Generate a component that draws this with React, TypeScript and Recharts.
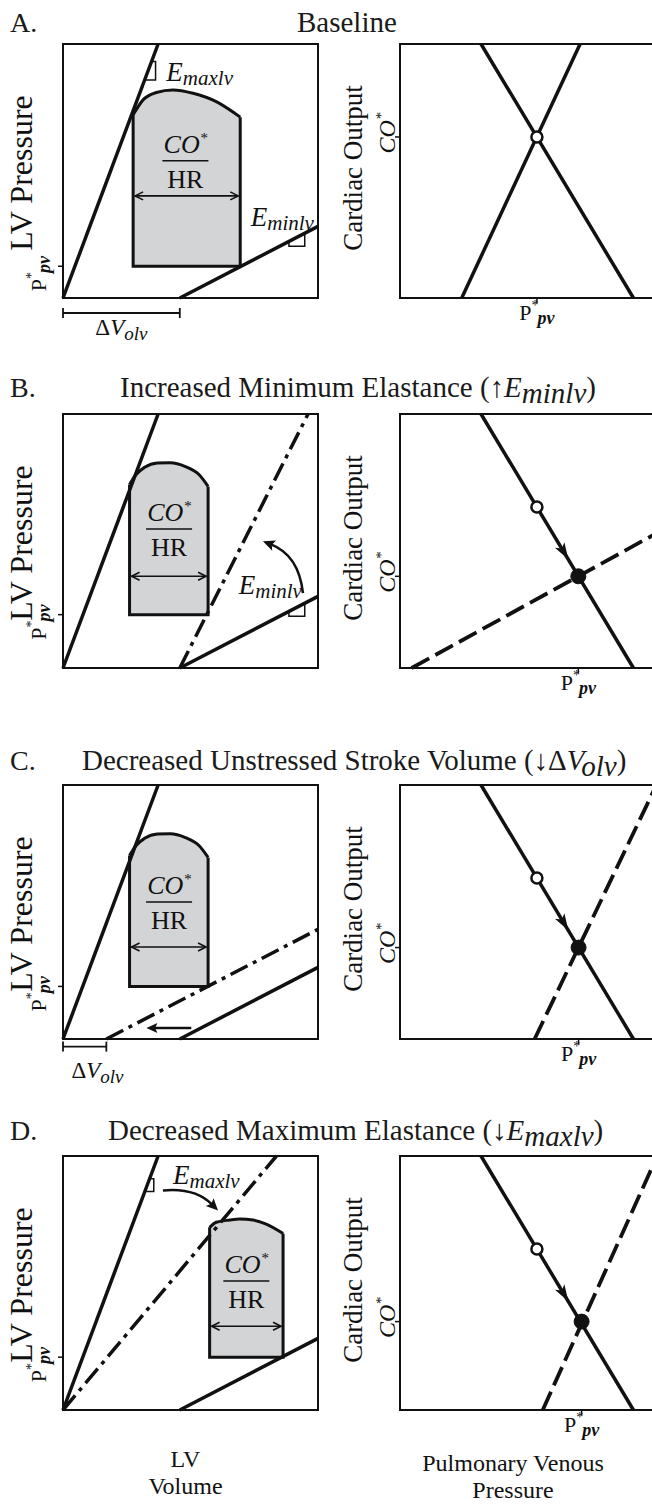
import React from 'react';
import {
  Area,
  ComposedChart,
  Line,
  ReferenceArea,
  ReferenceDot,
  ReferenceLine,
  XAxis,
  YAxis
} from 'recharts';

type Pt = { x: number; y: number };

const SERIF = '"Liberation Serif", "Times New Roman", serif';
const INK = '#111';
const LOOP_FILL = '#d3d4d6';

// every box is a 0-100 schematic space on both axes

// left column: LV pressure vs LV volume
const emaxLine: Pt[] = [{ x: 0, y: 0 }, { x: 37.3, y: 100 }];
const eminLine: Pt[] = [{ x: 45.8, y: 0 }, { x: 100, y: 28.2 }];
const eminHighLine: Pt[] = [{ x: 45.8, y: 0 }, { x: 96.1, y: 100 }];
const eminShiftLine: Pt[] = [{ x: 17, y: 0 }, { x: 100, y: 43.2 }];
const emaxLowLine: Pt[] = [{ x: 0, y: 0 }, { x: 83.7, y: 100 }];

const emaxMarkA: Pt[] = [{ x: 32.0, y: 85.8 }, { x: 36.3, y: 85.8 }, { x: 36.3, y: 93.1 }, { x: 34.7, y: 93.1 }];
const emaxMarkD: Pt[] = [{ x: 32.1, y: 86 }, { x: 35.6, y: 86 }, { x: 35.6, y: 91 }, { x: 33.9, y: 91 }];
const eminMark: Pt[] = [{ x: 88.6, y: 22.2 }, { x: 88.6, y: 20.4 }, { x: 94.8, y: 20.4 }, { x: 94.8, y: 25.5 }];

const loopTopA: Pt[] = [
  { x: 27.5, y: 72.1 }, { x: 31.4, y: 78.0 }, { x: 36.6, y: 80.9 }, { x: 43.1, y: 81.9 },
  { x: 51.0, y: 80.6 }, { x: 60.1, y: 77.3 }, { x: 69.5, y: 71.2 }
];
const loopTopB: Pt[] = [
  { x: 26.1, y: 72.2 }, { x: 28.5, y: 76.0 }, { x: 32, y: 79.0 }, { x: 37, y: 80.7 },
  { x: 42, y: 80.8 }, { x: 48, y: 79.3 }, { x: 53.5, y: 76 }, { x: 56.9, y: 71.5 }
];
const loopTopD: Pt[] = [
  { x: 57.5, y: 71.9 }, { x: 60.1, y: 73.9 }, { x: 65.4, y: 74.8 }, { x: 69.3, y: 75.2 },
  { x: 74.5, y: 74.8 }, { x: 79.7, y: 73.2 }, { x: 86.3, y: 69.5 }
];
const loopBottoms = [12.5, 21, 20.7, 20.8];
const strokeArrowYs = [40.2, 36.1, 36.2, 33];
const fractionPos: Pt[] = [{ x: 48, y: 54 }, { x: 41.6, y: 54.7 }, { x: 41.6, y: 53.9 }, { x: 71.9, y: 50.8 }];

// right column: cardiac output vs pulmonary venous pressure
const venousReturn: Pt[] = [{ x: 31.9, y: 100 }, { x: 91.9, y: 0 }];
const lvOutputBase: Pt[] = [{ x: 24.3, y: 0 }, { x: 70.9, y: 100 }];
const lvOutputB: Pt[] = [{ x: 4.6, y: 0 }, { x: 100, y: 52.5 }];
const lvOutputC: Pt[] = [{ x: 53, y: 0 }, { x: 100, y: 98 }];
const lvOutputD: Pt[] = [{ x: 56.2, y: 0 }, { x: 100, y: 97.2 }];
const baseEq: Pt = { x: 53.9, y: 63.4 };
const newEqs: Pt[] = [{ x: 70.2, y: 36.1 }, { x: 70.3, y: 36.0 }, { x: 71.5, y: 34.8 }];
const shiftTip: Pt = { x: 66.3, y: 42.7 };

const boxTops = [44, 414, 785, 1156];
const PLOT_H = 254;
const PAD_TOP = 40;

const panelLetters = ['A.', 'B.', 'C.', 'D.'];
const titleBaselines = [32, 397, 770, 1140];
const titleStarts = [297, 120, 82, 108];

// ---------- shape helpers ----------
const arrowHead = (tx: number, ty: number, fx: number, fy: number, len: number, hw: number, notch = 1) => {
  const d = Math.hypot(tx - fx, ty - fy) || 1;
  const ux = (tx - fx) / d;
  const uy = (ty - fy) / d;
  const bx = tx - ux * len;
  const by = ty - uy * len;
  const nx = tx - ux * len * notch;
  const ny = ty - uy * len * notch;
  return `M${tx},${ty}L${bx - uy * hw},${by + ux * hw}L${nx},${ny}L${bx + uy * hw},${by - ux * hw}Z`;
};

const doubleArrowShape = (p: any) => {
  const x1 = p.x1 + 2;
  const x2 = p.x2 - 2;
  const y = p.y1;
  return (
    <g stroke={INK} strokeWidth={1.6} fill="none">
      <line x1={x1} y1={y} x2={x2} y2={y} />
      <path d={`M${x1 + 8},${y - 4}L${x1},${y}L${x1 + 8},${y + 4}`} />
      <path d={`M${x2 - 8},${y - 4}L${x2},${y}L${x2 - 8},${y + 4}`} />
    </g>
  );
};

const curvedArrowShape = (bend: number) => (p: any) => {
  const { x1, y1, x2, y2 } = p;
  const dx = x2 - x1;
  const dy = y2 - y1;
  const L = Math.hypot(dx, dy) || 1;
  const cx = (x1 + x2) / 2 - (dy / L) * bend;
  const cy = (y1 + y2) / 2 + (dx / L) * bend;
  const tl = Math.hypot(x2 - cx, y2 - cy) || 1;
  const ex = x2 - ((x2 - cx) / tl) * 8;
  const ey = y2 - ((y2 - cy) / tl) * 8;
  return (
    <g>
      <path d={`M${x1},${y1}Q${cx},${cy} ${ex},${ey}`} fill="none" stroke={INK} strokeWidth={2.5} />
      <path d={arrowHead(x2, y2, cx, cy, 12, 5.5, 0.8)} fill={INK} />
    </g>
  );
};

const straightArrowShape = (p: any) => {
  const { x1, y1, x2, y2 } = p;
  const d = Math.hypot(x2 - x1, y2 - y1) || 1;
  const ex = x2 - ((x2 - x1) / d) * 8;
  const ey = y2 - ((y2 - y1) / d) * 8;
  return (
    <g>
      <line x1={x1} y1={y1} x2={ex} y2={ey} stroke={INK} strokeWidth={2.5} />
      <path d={arrowHead(x2, y2, x1, y1, 11, 5, 0.8)} fill={INK} />
    </g>
  );
};

const headOnlyShape = (p: any) => (
  <path d={arrowHead(p.x2, p.y2, p.x1, p.y1, 17, 5.5, 0.75)} fill={INK} />
);

const bracketShape = (p: any) => (
  <g stroke={INK} strokeWidth={1.8}>
    <line x1={p.x1} y1={p.y1} x2={p.x2} y2={p.y2} />
    <line x1={p.x1} y1={p.y1 - 5} x2={p.x1} y2={p.y1 + 5} />
    <line x1={p.x2} y1={p.y2 - 5} x2={p.x2} y2={p.y2 + 5} />
  </g>
);

const eLabelShape = (sub: string) => (p: any) => (
  <text x={p.cx} y={p.cy + 8} textAnchor="middle" fontFamily={SERIF} fontStyle="italic" fontSize={27} fill={INK}>
    E<tspan fontSize={21} dy={4}>{sub}</tspan>
  </text>
);

const dvLabelShape = (p: any) => (
  <text x={p.cx} y={p.cy} textAnchor="middle" fontFamily={SERIF} fontSize={23} fill={INK}>
    Δ<tspan fontStyle="italic">V</tspan>
    <tspan fontStyle="italic" fontSize={19} dy={5}>olv</tspan>
  </text>
);

const fractionShape = (p: any) => (
  <g fill={INK} fontFamily={SERIF}>
    <text x={p.cx} y={p.cy - 8} textAnchor="middle" fontSize={26} fontStyle="italic">
      CO<tspan fontSize={15} dy={-10}>*</tspan>
    </text>
    <line x1={p.cx - 23} x2={p.cx + 23} y1={p.cy} y2={p.cy} stroke={INK} strokeWidth={1.5} />
    <text x={p.cx} y={p.cy + 27} textAnchor="middle" fontSize={26}>HR</text>
  </g>
);

const ppvText = (x: number, y: number, anchor: 'start' | 'middle') => (
  <text x={x} y={y} textAnchor={anchor} fontFamily={SERIF} fontSize={22} fill={INK}>
    P<tspan fontSize={14} dy={-10}>*</tspan>
    <tspan dx={-1} dy={14} fontStyle="italic" fontWeight="bold" fontSize={18}>pv</tspan>
  </text>
);

const LeftTick = (p: any) => (
  <g transform={`translate(${p.x - 10},${p.y + 25}) rotate(-90)`}>{ppvText(0, 0, 'start')}</g>
);

const BottomTick = (p: any) => ppvText(p.x, p.y + 15, 'middle');

const CoTick = (p: any) => (
  <g transform={`translate(${p.x + 2},${p.y - 4}) rotate(-90)`}>
    <text x={0} y={0} textAnchor="middle" fontFamily={SERIF} fontStyle="italic" fontSize={24} fill={INK}>
      CO<tspan fontSize={15} dy={-9}>*</tspan>
    </text>
  </g>
);

const lvPressureLabel = (p: any) => {
  const vb = p.viewBox;
  return (
    <text transform={`translate(${vb.x - 30},${vb.y + vb.height / 2 + 2}) rotate(-90)`} textAnchor="middle"
      fontFamily={SERIF} fontSize={32} fill={INK}>LV Pressure</text>
  );
};

const cardiacLabel = (p: any) => {
  const vb = p.viewBox;
  return (
    <text transform={`translate(${vb.x - 37},${vb.y + vb.height / 2 - 3}) rotate(-90)`} textAnchor="middle"
      fontFamily={SERIF} fontSize={27} fill={INK}>Cardiac Output</text>
  );
};

// two stacked lines under the bottom row of boxes
const lvVolumeLabel = (p: any) => {
  const vb = p.viewBox;
  const cx = vb.x + vb.width / 2 - 5;
  return (
    <g fontFamily={SERIF} fontSize={24} fill={INK} textAnchor="middle">
      <text x={cx} y={vb.y + 57}>LV</text>
      <text x={cx} y={vb.y + 84}>Volume</text>
    </g>
  );
};

const pvPressureLabel = (p: any) => {
  const vb = p.viewBox;
  const cx = vb.x + vb.width / 2 - 14;
  return (
    <g fontFamily={SERIF} fontSize={24} fill={INK} textAnchor="middle">
      <text x={cx} y={vb.y + 61}>Pulmonary Venous</text>
      <text x={cx} y={vb.y + 88}>Pressure</text>
    </g>
  );
};

const seg = (key: string, data: Pt[], width = 3.5, dash?: string) => (
  <Line key={key} data={data} dataKey="y" type="linear" stroke={INK} strokeWidth={width}
    strokeDasharray={dash} strokeLinecap="butt" dot={false} activeDot={false}
    isAnimationActive={false} legendType="none" />
);

const loopSides = (top: Pt[], bottom: number): Pt[] => [
  top[0],
  { x: top[0].x, y: bottom },
  { x: top[top.length - 1].x, y: bottom },
  top[top.length - 1]
];

const DASH_DOT = '19 6 4 6';
const DASH = '20 7';

// ---------- left panels ----------
interface LeftSpec {
  row: number;
  loop: Pt[];
  extra: React.ReactNode[];
}

const LeftPanel = ({ row, loop, extra }: LeftSpec) => {
  const bottom = loopBottoms[row];
  const mb = row === 3 ? 94 : 60;
  const frac = fractionPos[row];
  return (
    <div style={{ position: 'absolute', left: 0, top: boxTops[row] - PAD_TOP }}>
      <ComposedChart width={326} height={PAD_TOP + PLOT_H + mb} margin={{ top: PAD_TOP, right: 8, bottom: mb - 1, left: 62 }}>
        <XAxis type="number" dataKey="x" domain={[0, 100]} height={1} tick={false} axisLine={false}
          tickLine={false} label={row === 3 ? lvVolumeLabel : undefined} />
        <YAxis type="number" domain={[0, 100]} width={1} ticks={[bottom]} interval={0} tick={LeftTick}
          tickSize={5} tickMargin={2} axisLine={false} tickLine={{ stroke: INK, strokeWidth: 1.5 }}
          label={lvPressureLabel} />
        <ReferenceArea x1={0} x2={100} y1={0} y2={100} fill="none" stroke={INK} strokeWidth={2} ifOverflow="visible" />
        <Area data={loop} dataKey="y" type="monotone" baseValue={bottom} fill={LOOP_FILL} fillOpacity={1}
          stroke={INK} strokeWidth={3} dot={false} activeDot={false} isAnimationActive={false} legendType="none" />
        {seg('sides', loopSides(loop, bottom), 3)}
        <ReferenceLine segment={[{ x: loop[0].x, y: strokeArrowYs[row] }, { x: loop[loop.length - 1].x, y: strokeArrowYs[row] }]}
          shape={doubleArrowShape} />
        <ReferenceDot x={frac.x} y={frac.y} r={1} shape={fractionShape} />
        {seg('emax', emaxLine)}
        {seg('emin', eminLine)}
        {extra}
      </ComposedChart>
    </div>
  );
};

// ---------- right panels ----------
interface RightSpec {
  row: number;
  shifted?: Pt[];
}

const RightPanel = ({ row, shifted }: RightSpec) => {
  const mb = row === 3 ? 94 : 60;
  const eq = row === 0 ? baseEq : newEqs[row - 1];
  return (
    <div style={{ position: 'absolute', left: 326, top: boxTops[row] - PAD_TOP }}>
      <ComposedChart width={330} height={PAD_TOP + PLOT_H + mb} margin={{ top: PAD_TOP, right: 2, bottom: mb - 1, left: 73 }}>
        <XAxis type="number" dataKey="x" domain={[0, 100]} height={1} ticks={[eq.x]} interval={0}
          tick={BottomTick} tickSize={5} tickMargin={2} axisLine={false}
          tickLine={{ stroke: INK, strokeWidth: 1.5 }} label={row === 3 ? pvPressureLabel : undefined} />
        <YAxis type="number" domain={[0, 100]} width={1} ticks={[eq.y]} interval={0} tick={CoTick}
          tickSize={5} tickMargin={2} axisLine={false} tickLine={{ stroke: INK, strokeWidth: 1.5 }}
          label={cardiacLabel} />
        <ReferenceArea x1={0} x2={100} y1={0} y2={100} fill="none" stroke={INK} strokeWidth={2} ifOverflow="visible" />
        {seg('vr', venousReturn)}
        {shifted ? seg('lv', shifted, 3.8, DASH) : seg('lv', lvOutputBase)}
        {shifted && <ReferenceLine segment={[baseEq, shiftTip]} shape={headOnlyShape} />}
        <ReferenceDot x={baseEq.x} y={baseEq.y} r={5.5} fill="#fff" stroke={INK} strokeWidth={2.5} />
        {shifted && <ReferenceDot x={eq.x} y={eq.y} r={7.5} fill={INK} stroke={INK} strokeWidth={1} />}
      </ComposedChart>
    </div>
  );
};

const eSub = (text: string) => (
  <>
    <tspan fontStyle="italic">E</tspan>
    <tspan fontStyle="italic" dy={6}>{text}</tspan>
    <tspan dy={-6}>)</tspan>
  </>
);

const titles: React.ReactNode[] = [
  <>Baseline</>,
  <>Increased Minimum Elastance (↑{eSub('minlv')}</>,
  <>
    Decreased Unstressed Stroke Volume (↓Δ<tspan fontStyle="italic">V</tspan>
    <tspan fontStyle="italic" dy={6}>olv</tspan>
    <tspan dy={-6}>)</tspan>
  </>,
  <>Decreased Maximum Elastance (↓{eSub('maxlv')}</>
];

export default function App() {
  return (
    <div style={{ position: 'absolute', left: 0, top: 0, width: 652, height: 1504, overflow: 'hidden', background: '#fff' }}>
      <LeftPanel row={0} loop={loopTopA} extra={[
        <Line key="m1" data={emaxMarkA} dataKey="y" type="linear" stroke={INK} strokeWidth={1.5} dot={false} activeDot={false} isAnimationActive={false} legendType="none" />,
        <Line key="m2" data={eminMark} dataKey="y" type="linear" stroke={INK} strokeWidth={1.5} dot={false} activeDot={false} isAnimationActive={false} legendType="none" />,
        <ReferenceDot key="l1" x={53.6} y={88.5} r={1} shape={eLabelShape('maxlv')} />,
        <ReferenceDot key="l2" x={86} y={31.5} r={1} shape={eLabelShape('minlv')} />,
        <ReferenceLine key="b" segment={[{ x: 0, y: -5.9 }, { x: eminLine[0].x, y: -5.9 }]} ifOverflow="visible" shape={bracketShape} />,
        <ReferenceDot key="dv" x={eminLine[0].x / 2} y={-14.4} r={1} ifOverflow="visible" shape={dvLabelShape} />
      ]} />
      <RightPanel row={0} />

      <LeftPanel row={1} loop={loopTopB} extra={[
        seg('hi', eminHighLine, 3.5, DASH_DOT),
        <Line key="m2" data={eminMark} dataKey="y" type="linear" stroke={INK} strokeWidth={1.5} dot={false} activeDot={false} isAnimationActive={false} legendType="none" />,
        <ReferenceDot key="l2" x={81.3} y={32.2} r={1} shape={eLabelShape('minlv')} />,
        <ReferenceLine key="ca" segment={[{ x: 94.1, y: 29.5 }, { x: 78.4, y: 49.9 }]} shape={curvedArrowShape(20)} />
      ]} />
      <RightPanel row={1} shifted={lvOutputB} />

      <LeftPanel row={2} loop={loopTopB} extra={[
        seg('sh', eminShiftLine, 3.5, DASH_DOT),
        <ReferenceLine key="la" segment={[{ x: 50.3, y: 4.3 }, { x: 32.7, y: 4.3 }]} shape={straightArrowShape} />,
        <ReferenceLine key="b" segment={[{ x: 0, y: -3.0 }, { x: eminShiftLine[0].x, y: -3.0 }]} ifOverflow="visible" shape={bracketShape} />,
        <ReferenceDot key="dv" x={eminShiftLine[0].x / 2 + 5} y={-15.4} r={1} ifOverflow="visible" shape={dvLabelShape} />
      ]} />
      <RightPanel row={2} shifted={lvOutputC} />

      <LeftPanel row={3} loop={loopTopD} extra={[
        seg('lo', emaxLowLine, 3.5, DASH_DOT),
        <Line key="m1" data={emaxMarkD} dataKey="y" type="linear" stroke={INK} strokeWidth={1.5} dot={false} activeDot={false} isAnimationActive={false} legendType="none" />,
        <ReferenceDot key="l1" x={56.2} y={92.3} r={1} shape={eLabelShape('maxlv')} />,
        <ReferenceLine key="ca" segment={[{ x: 39.2, y: 86.4 }, { x: 60.8, y: 78.5 }]} shape={curvedArrowShape(-14)} />
      ]} />
      <RightPanel row={3} shifted={lvOutputD} />

      <svg width={652} height={1504} style={{ position: 'absolute', left: 0, top: 0, pointerEvents: 'none' }}>
        {panelLetters.map((letter, i) => (
          <g key={letter} fontFamily={SERIF} fill="#1a1a1a">
            <text x={10} y={titleBaselines[i]} fontSize={28}>{letter}</text>
            <text x={titleStarts[i]} y={titleBaselines[i]} fontSize={29}>{titles[i]}</text>
          </g>
        ))}
      </svg>
    </div>
  );
}
